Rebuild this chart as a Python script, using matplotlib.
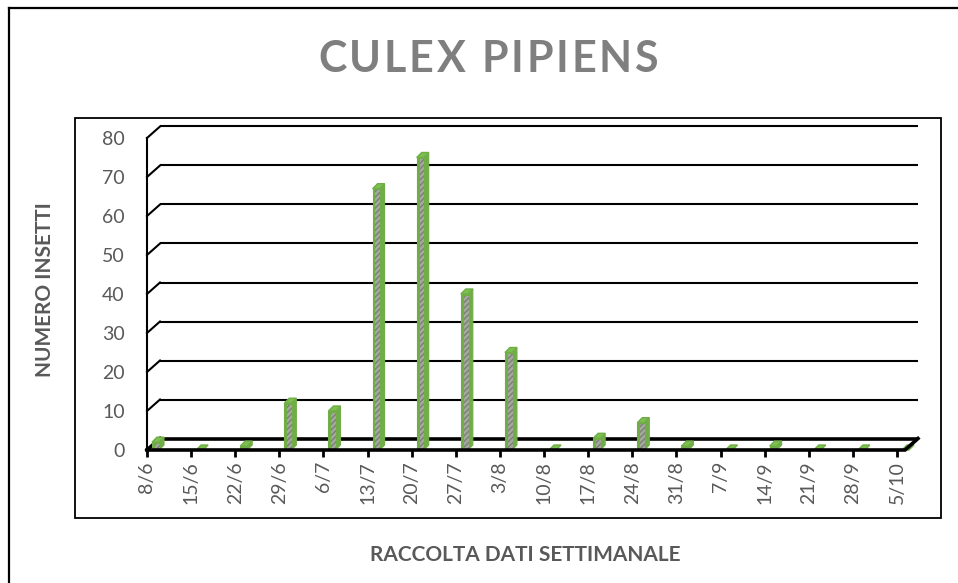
import matplotlib
matplotlib.use("Agg")

import matplotlib.pyplot as plt
from matplotlib.patches import Polygon, Rectangle
from matplotlib.lines import Line2D

plt.rcParams["font.family"] = ["Lato", "DejaVu Sans"]

weeks = ["8/6", "15/6", "22/6", "29/6", "6/7", "13/7", "20/7", "27/7", "3/8",
         "10/8", "17/8", "24/8", "31/8", "7/9", "14/9", "21/9", "28/9", "5/10"]
counts = [2, 0, 1, 12, 10, 67, 75, 40, 25, 0, 3, 7, 1, 0, 1, 0, 0, 0]
y_ticks = list(range(0, 90, 10))
title = "CULEX PIPIENS"

W, H = 958, 583
GREEN = "#70AD47"
GREY_TXT = "#595959"

# pixel scale of the front plane
PX_X = (897 - 147) / 17.0
PX_Y = (450 - 138) / 80.0
# depth offset of the back wall
DX, DY = 13 / PX_X, 11.5 / PX_Y
X_BACK_END = (918 - 147) / PX_X
X_FRONT_END = (905 - 147) / PX_X
# bar geometry
BAR_OFF, BAR_W = 5 / PX_X, 7 / PX_X
TOP_DX, TOP_DY = 5 / PX_X, 5 / PX_Y

fig = plt.figure(figsize=(W / 100, H / 100), dpi=100)


def fx(px):
    return px / W


def fy(py):
    return 1 - py / H


# outer chart border (right/bottom sides are cut by the screenshot)
fig.add_artist(Line2D([fx(9), fx(9)], [fy(8), fy(600)], color="black", lw=1.6))
fig.add_artist(Line2D([fx(9), fx(980)], [fy(8), fy(8)], color="black", lw=1.6))
# plot area border
fig.add_artist(Rectangle((fx(75), fy(518)), fx(941) - fx(75), fy(118) - fy(518),
                         fill=False, edgecolor="black", lw=1.3))

ax = fig.add_axes([fx(147), fy(450), fx(897) - fx(147), fy(138) - fy(450)])
ax.set_xlim(0, 17)
ax.set_ylim(0, 80)
ax.patch.set_alpha(0)
for s in ["top", "right", "bottom"]:
    ax.spines[s].set_visible(False)
ax.spines["left"].set_linewidth(1.5)

# back wall gridlines with the diagonal links to the front axis
for v in y_ticks:
    lw = 2.6 if v == 0 else 1.5
    ax.plot([DX, X_BACK_END], [v + DY, v + DY], color="black", lw=lw,
            clip_on=False, zorder=1, solid_capstyle="butt")
    ax.plot([0, DX], [v, v + DY], color="black", lw=lw, clip_on=False, zorder=1)

# 3D-looking thin columns
for i, v in enumerate(counts):
    x0 = i + BAR_OFF
    if v > 0:
        ax.add_patch(Polygon([(x0 + BAR_W, 0), (x0 + BAR_W + TOP_DX, TOP_DY),
                              (x0 + BAR_W + TOP_DX, v + TOP_DY), (x0 + BAR_W, v)],
                             closed=True, facecolor=GREEN, edgecolor=GREEN, lw=0.8,
                             clip_on=False, zorder=3))
        ax.add_patch(Rectangle((x0, 0), BAR_W, v, facecolor=GREEN, edgecolor=GREEN,
                               lw=0.8, clip_on=False, zorder=3))
        ax.add_patch(Rectangle((x0 + BAR_W * 0.4, 0), BAR_W * 0.7, v - 0.4,
                               facecolor="#a3aa9c", edgecolor="#7b7f78", hatch="//////",
                               lw=0, clip_on=False, zorder=4))
    ax.add_patch(Polygon([(x0, v), (x0 + BAR_W, v), (x0 + BAR_W + TOP_DX, v + TOP_DY),
                          (x0 + TOP_DX, v + TOP_DY)],
                         closed=True, facecolor="#7cc050", edgecolor=GREEN, lw=1.0,
                         clip_on=False, zorder=5))

# floor front edge
ax.plot([0, X_FRONT_END, X_BACK_END], [0, 0, DY], color="black", lw=2.6,
        clip_on=False, zorder=6, solid_joinstyle="miter")

ax.set_yticks(y_ticks)
ax.tick_params(axis="y", length=0, pad=16, labelsize=14, labelcolor=GREY_TXT)
ax.set_xticks(range(len(weeks)))
ax.set_xticklabels(weeks, rotation=90)
ax.tick_params(axis="x", length=5, width=2, pad=3, labelsize=14, labelcolor=GREY_TXT)

# letter-spaced title, spread over the same width as the original
renderer = fig.canvas.get_renderer()
title_left, title_right = 318, 658
chars = []
for ch in title:
    t = fig.text(0, fy(59), ch, ha="left", va="center", fontsize=31,
                 fontweight="bold", color="#7f7f7f")
    chars.append((t, t.get_window_extent(renderer).width))
gap = (title_right - title_left - sum(w for _, w in chars)) / (len(chars) - 1)
pos = title_left
for t, w in chars:
    t.set_x(fx(pos))
    pos += w + gap

fig.text(fx(45), fy(290), "NUMERO INSETTI", ha="center", va="center", rotation=90,
         fontsize=15, fontweight="bold", color=GREY_TXT)
fig.text(fx(525), fy(555), "RACCOLTA DATI SETTIMANALE", ha="center", va="center",
         fontsize=15, fontweight="bold", color=GREY_TXT)

fig.savefig("out.png", dpi=100)
plt.close(fig)
